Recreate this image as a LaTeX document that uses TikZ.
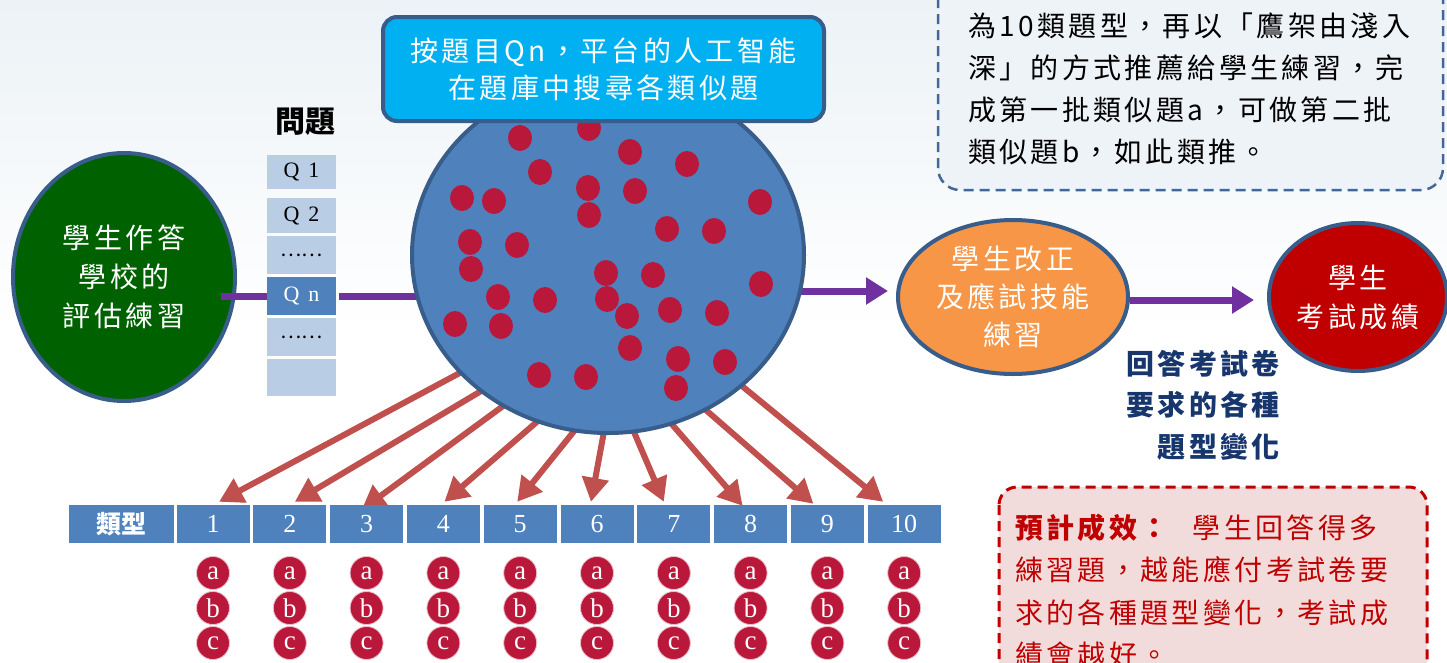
\documentclass[tikz,border=0pt]{standalone}
\usepackage{fontspec}
\setmainfont{Liberation Serif}
\newfontfamily\cjk[LetterSpace=12]{Noto Sans CJK TC}
\newfontfamily\cjkn{Noto Sans CJK TC}
\newfontfamily\serifd{Liberation Serif}
\usetikzlibrary{shapes.geometric,arrows.meta}
\pgfdeclarelayer{bglayer}
\pgfdeclarelayer{conn}
\pgfsetlayers{bglayer,conn,main}
\definecolor{bgtop}{RGB}{236,242,246}
\definecolor{boxblue}{RGB}{79,129,189}
\definecolor{bordc}{RGB}{56,93,138}
\definecolor{qlight}{RGB}{185,205,229}
\definecolor{purp}{RGB}{112,48,160}
\definecolor{arrred}{RGB}{192,80,77}
\definecolor{dotred}{RGB}{186,24,58}
\definecolor{dgreen}{RGB}{0,97,0}
\definecolor{orng}{RGB}{247,150,70}
\definecolor{dred}{RGB}{192,0,0}
\definecolor{cyanb}{RGB}{0,176,240}
\definecolor{navy}{RGB}{23,54,110}
\definecolor{notefill}{RGB}{238,243,248}
\definecolor{notedraw}{RGB}{68,103,154}
\definecolor{efffill}{RGB}{242,220,219}
\tikzset{
  ell/.style={ellipse, draw=bordc, line width=4pt, inner sep=0pt, text=white, align=center},
  qbox/.style={rectangle, fill=qlight, minimum width=69pt, inner sep=0pt, font=\serifd\fontsize{22}{22}\selectfont},
  cell/.style={rectangle, fill=boxblue, minimum width=73pt, minimum height=38pt, inner sep=0pt, text=white, font=\serifd\fontsize{26}{26}\selectfont},
  abc/.style={circle, fill=dotred, draw={rgb,255:red,235;green,190;blue,200}, line width=0.8pt, minimum size=33pt, inner sep=0pt, text=white, font=\serifd\fontsize{27}{27}\selectfont},
  redarrow/.style={draw=arrred, line width=6pt, -{Triangle[length=24pt,width=26pt]}},
  pline/.style={draw=purp, line width=7pt},
  parrow/.style={draw=purp, line width=7pt, -{Triangle[length=22pt,width=26pt]}},
}
\begin{document}
\begin{tikzpicture}[x=1pt,y=-1pt]
\useasboundingbox (0,0) rectangle (1447,662);
\begin{pgfonlayer}{bglayer}
\shade[top color=bgtop, bottom color=white, middle color=white] (0,0) rectangle (1447,662);
\end{pgfonlayer}

% top-right note
\draw[draw=notedraw, fill=notefill, line width=2.5pt, dash pattern=on 10pt off 6pt, rounded corners=22pt] (938,-40) rectangle (1443,190);
\node[anchor=west, align=left, inner sep=0pt, font=\cjk\fontsize{28}{42}\selectfont] (notetext) at (968,89) {為10類題型，再以「鷹架由淺入\\深」的方式推薦給學生練習，完\\成第一批類似題a，可做第二批\\類似題b，如此類推。};

% expected effect box
\draw[draw=dred, fill=efffill, line width=3pt, dash pattern=on 10pt off 6pt, rounded corners=18pt] (999,487) rectangle (1427,720);
\node[anchor=west, align=left, inner sep=0pt, text=dred, font=\cjk\fontsize{28}{42.5}\selectfont] (efftext) at (1015,591) {{\bfseries 預計成效：}\hspace{24pt}學生回答得多\\練習題，越能應付考試卷要\\求的各種題型變化，考試成\\績會越好。};

% left ellipse
\node[ell, fill=dgreen, minimum width=222pt, minimum height=248pt, font=\cjk\fontsize{28}{39}\selectfont] (g) at (124,277) {學生作答\\學校的\\評估練習};

% question list
\node[font=\cjkn\bfseries\fontsize{30}{30}\selectfont] (qlabel) at (305,122) {問題};
\node[qbox, minimum height=34pt] (q1) at (301.5,172) {Q\hspace{9pt}1};
\node[qbox, minimum height=35pt] (q2) at (301.5,215.5) {Q\hspace{9pt}2};
\node[qbox, minimum height=38pt] (q3) at (301.5,255) {\cjkn\fontsize{20}{20}\selectfont ……};
\node[qbox, minimum height=38pt, fill=boxblue, text=white] (q4) at (301.5,296) {Q\hspace{9pt}n};
\node[qbox, minimum height=38pt] (q5) at (301.5,337) {\cjkn\fontsize{20}{20}\selectfont ……};
\node[qbox, minimum height=37pt] (q6) at (301.5,377.5) {};
\path (q4.west -| g.east) coordinate (gq);
\draw[pline] ([xshift=-16pt]gq) -- (q4.west);

% pool
\node[ellipse, draw=bordc, line width=4pt, fill=boxblue, minimum width=392pt, minimum height=356pt, inner sep=0pt] (pool) at (608,255) {};
\foreach \x/\y in {520/138, 589/128, 630/152, 687/164, 540/172, 588/188, 635/191, 462/198, 494/201, 589/215, 760/202, 667/229, 714/231, 470/242, 517/245, 471/269, 606/273, 653/275, 761/284, 498/297, 545/300, 607/299, 627/316, 670/310, 717/313, 455/324, 501/326, 630/348, 678/359, 725/362, 539/375, 586/377, 676/388}
  \fill[dotred] (\x,\y) ellipse [x radius=12, y radius=13];

% title
\node[draw=bordc, line width=4pt, fill=cyanb, rounded corners=14pt, minimum width=441pt, minimum height=104pt, inner sep=0pt, text=white, align=center, font=\cjk\fontsize{28}{37}\selectfont] (title) at (603.5,69) {按題目Qn，平台的人工智能\\在題庫中搜尋各類似題};

% right ellipses
\node[ell, fill=orng, minimum width=230pt, minimum height=154pt, font=\cjk\fontsize{28}{38}\selectfont] (o) at (1013,297) {學生改正\\及應試技能\\練習};
\node[ell, fill=dred, minimum width=178pt, minimum height=148pt, font=\cjk\fontsize{28}{39}\selectfont] (r) at (1358,297) {學生\\考試成績};

\node[anchor=east, align=right, inner sep=0pt, text=navy, font=\cjk\bfseries\fontsize{28}{41.5}\selectfont] (req) at (1280,405) {回答考試卷\\要求的各種\\題型變化};

% table
\node[cell, minimum width=105pt, font=\cjkn\bfseries\fontsize{25}{25}\selectfont] (t0) at (121.5,524) {類型};
\foreach \i in {1,...,10} {
  \node[cell] (t\i) at ({213+76.8*(\i-1)},524) {\i};
  \node[abc] (a\i) at ({213+76.8*(\i-1)},573) {a};
  \node[abc] (b\i) at ({213+76.8*(\i-1)},608) {b};
  \node[abc] (c\i) at ({213+76.8*(\i-1)},643) {c};
}

% start points of the red arrows (inside the pool)
\coordinate (s1) at (484,360);
\coordinate (s2) at (498,381);
\coordinate (s3) at (514,398);
\coordinate (s4) at (546,414);
\coordinate (s5) at (579,425);
\coordinate (s6) at (605,426);
\coordinate (s7) at (631,425);
\coordinate (s8) at (663,414);
\coordinate (s9) at (691,397);
\coordinate (s10) at (720,368);

\begin{pgfonlayer}{conn}
\foreach \i/\dx/\dy in {1/6/3, 2/5/3, 3/-5/-5, 4/1/3, 5/-3/3, 6/-6/3, 7/-10/3, 8/-8/-1, 9/-14/1, 10/-21/3}
  \draw[redarrow] (s\i) -- ([xshift=\dx pt, yshift=\dy pt]t\i.north);
\draw[pline] ([xshift=3pt]q4.east) -- (pool.center |- q4.east);
\draw[parrow] (pool.center |- 0,291) -- ([xshift=-8pt,yshift=6pt]o.west);
\draw[parrow] ([yshift=-3pt]o.east) -- ([xshift=-13pt,yshift=-3pt]r.west);
\end{pgfonlayer}
\end{tikzpicture}
\end{document}
